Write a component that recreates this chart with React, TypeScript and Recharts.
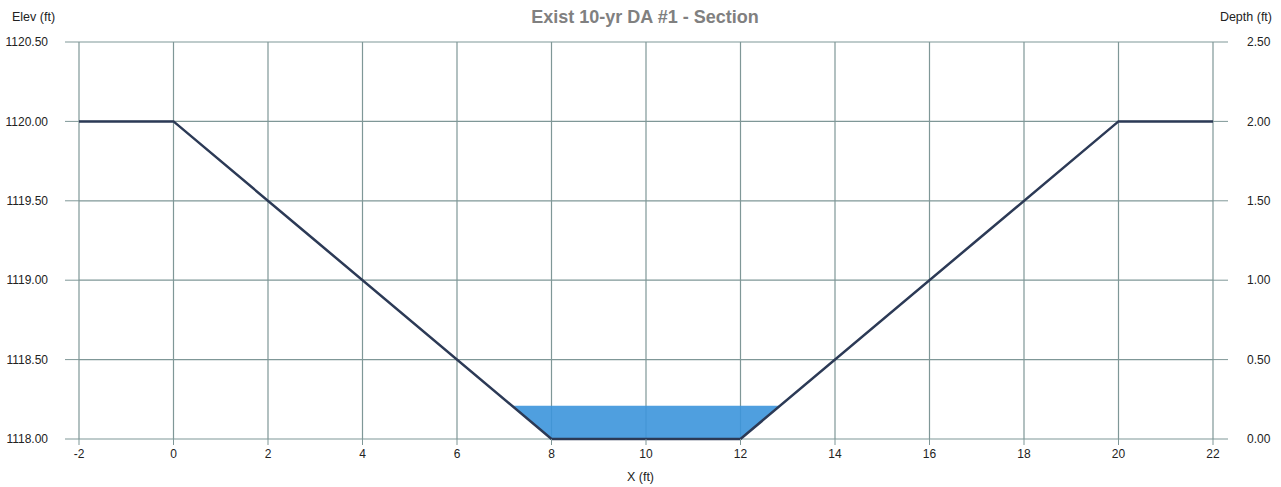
import React from "react";
import { Area, CartesianGrid, ComposedChart, Line, XAxis, YAxis } from "recharts";

// ground section
const stationX = [-2, 0, 3, 8, 12, 17, 20, 22];
const groundElev = [1120, 1120, 1119.25, 1118, 1118, 1119.25, 1120, 1120];
const invertElev = 1118;

// water surface for the 10-yr event
const waterX = [7.16, 8, 12, 12.84];
const waterTop = [1118.21, 1118.21, 1118.21, 1118.21];
const waterBottom = [1118.21, 1118, 1118, 1118.21];

const xTicks = [-2, 0, 2, 4, 6, 8, 10, 12, 14, 16, 18, 20, 22];
const elevTicks = [1118, 1118.5, 1119, 1119.5, 1120, 1120.5];
const depthTicks = [0, 0.5, 1, 1.5, 2, 2.5];

const groundData = stationX.map((x, i) => ({
  x,
  elev: groundElev[i],
  depth: groundElev[i] - invertElev,
}));
const waterData = waterX.map((x, i) => ({ x, water: [waterBottom[i], waterTop[i]] }));

const gridColor = "#7f9797";
const font = "'Liberation Sans', Arial, sans-serif";
const tickStyle = { fill: "#222", fontSize: 12, fontFamily: font };

export default function App() {
  return (
    <div style={{ position: "absolute", left: 0, top: 0, width: 1281, height: 487, background: "#fff", fontFamily: font }}>
      <div style={{ position: "absolute", top: 7, left: 0, width: 1290, textAlign: "center", color: "#808080", fontWeight: "bold", fontSize: 18 }}>
        Exist 10-yr DA #1 - Section
      </div>
      <div style={{ position: "absolute", top: 10, left: 12, fontSize: 12.5, color: "#222" }}>Elev (ft)</div>
      <div style={{ position: "absolute", top: 10, right: 9, fontSize: 12.5, color: "#222" }}>Depth (ft)</div>
      <div style={{ position: "absolute", top: 470, left: 0, width: 1281, textAlign: "center", fontSize: 12.5, color: "#222" }}>X (ft)</div>
      <ComposedChart width={1281} height={487} margin={{ top: 42, right: 8, bottom: 18, left: 9 }}>
        <CartesianGrid stroke={gridColor} strokeWidth={1.2} yAxisId="elev" />
        <XAxis
          dataKey="x"
          type="number"
          domain={[-2, 22]}
          ticks={xTicks}
          allowDataOverflow
          height={30}
          tick={tickStyle}
          tickSize={6}
          tickMargin={4}
          tickLine={{ stroke: gridColor }}
          axisLine={false}
        />
        <YAxis
          yAxisId="elev"
          orientation="left"
          type="number"
          domain={[1118, 1120.5]}
          ticks={elevTicks}
          width={70}
          tick={tickStyle}
          tickSize={14}
          tickMargin={17}
          tickLine={{ stroke: gridColor }}
          axisLine={false}
          tickFormatter={(v: number) => v.toFixed(2)}
        />
        <YAxis
          yAxisId="depth"
          orientation="right"
          type="number"
          domain={[0, 2.5]}
          ticks={depthTicks}
          width={60}
          tick={tickStyle}
          tickSize={15}
          tickMargin={19}
          tickLine={{ stroke: gridColor }}
          axisLine={false}
          tickFormatter={(v: number) => v.toFixed(2)}
        />
        <Area
          yAxisId="elev"
          data={waterData}
          dataKey="water"
          type="linear"
          stroke="none"
          fill="#3c95dc"
          fillOpacity={0.9}
          isAnimationActive={false}
        />
        <Line
          yAxisId="depth"
          data={groundData}
          dataKey="depth"
          type="linear"
          stroke="none"
          dot={false}
          activeDot={false}
          isAnimationActive={false}
        />
        <Line
          yAxisId="elev"
          data={groundData}
          dataKey="elev"
          type="linear"
          stroke="#2c3a56"
          strokeWidth={2.5}
          dot={false}
          activeDot={false}
          isAnimationActive={false}
        />
      </ComposedChart>
    </div>
  );
}
